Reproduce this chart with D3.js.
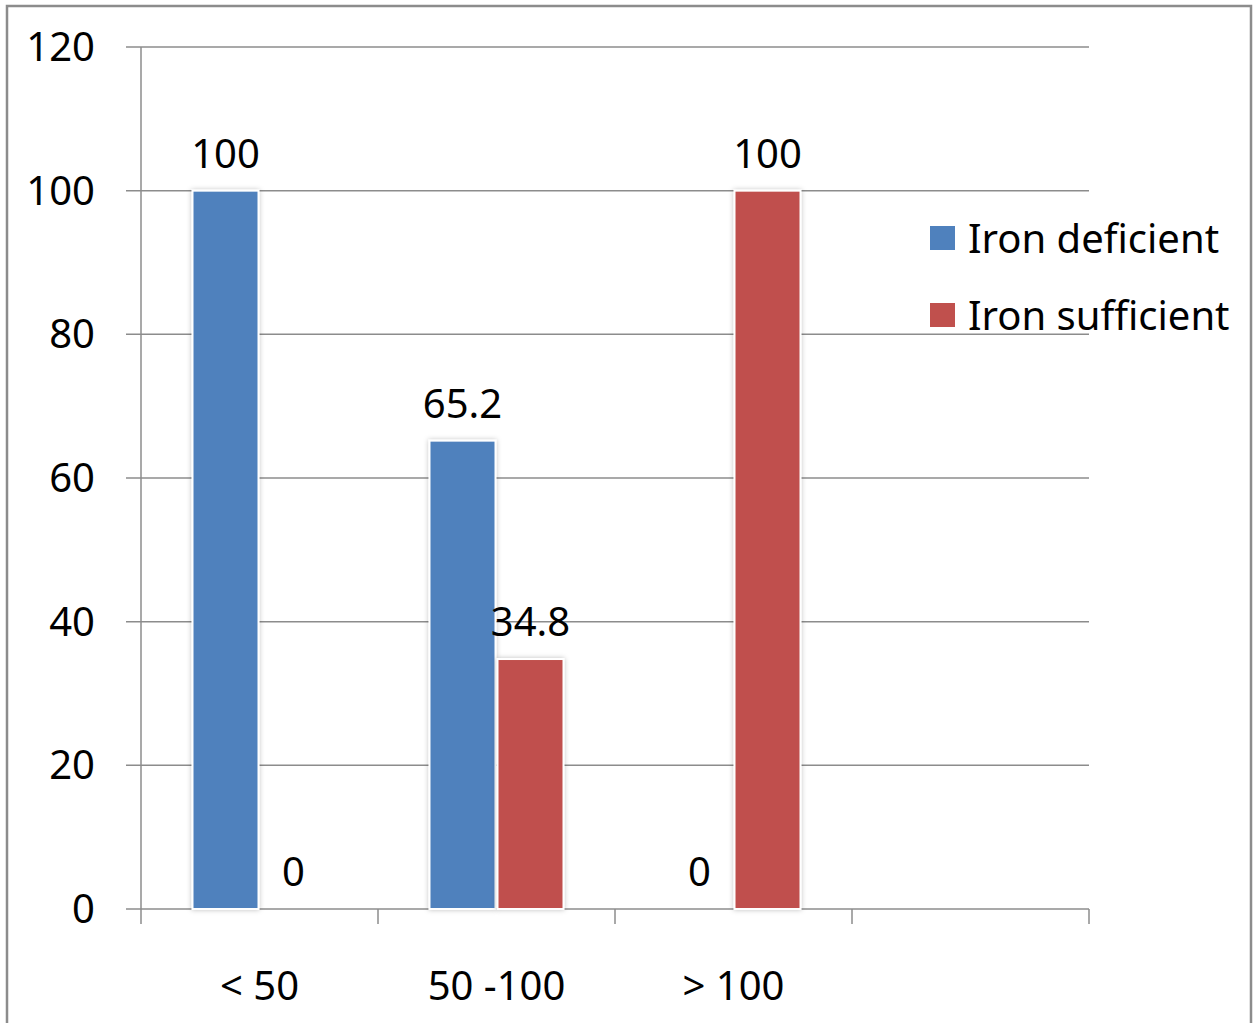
<!DOCTYPE html>
<html>
<head>
<meta charset="utf-8">
<script src="https://cdn.jsdelivr.net/npm/d3@7"></script>
<style>
    body { margin: 0; background: #fff; }
    svg text { font-family: "Noto Sans", "Open Sans", sans-serif; fill: #000; }
</style>
</head>
<body>
<div id="chart"></div>
<script>
    // chart data
    var categories = ['< 50', '50 -100', '> 100', ''];
    var seriesNames = ['Iron deficient', 'Iron sufficient'];
    var seriesColors = ['#4F81BD', '#C0504D'];
    var ironDeficient = [100, 65.2, 0];
    var ironSufficient = [0, 34.8, 100];
    var yTicks = [0, 20, 40, 60, 80, 100, 120];

    var width = 1259,
        height = 1023,
        margin = {left: 141, right: 170, top: 47, bottom: 114};

    var svg = d3.select('#chart').append('svg')
        .attr('width', width)
        .attr('height', height);

    var defs = svg.append('defs');
    var shadow = defs.append('filter')
        .attr('id', 'barShadow')
        .attr('x', '-20%').attr('y', '-5%')
        .attr('width', '140%').attr('height', '110%');
    shadow.append('feDropShadow')
        .attr('dx', 0).attr('dy', 0)
        .attr('stdDeviation', 2.5)
        .attr('flood-color', '#000')
        .attr('flood-opacity', 0.25);

    // outer frame (bottom edge falls outside the picture)
    svg.append('path')
        .attr('d', 'M7,' + (height + 5) + 'V6H1251V' + (height + 5))
        .attr('fill', 'none')
        .attr('stroke', '#8c8c8c')
        .attr('stroke-width', 2.5);

    var x = d3.scaleBand()
        .domain(d3.range(categories.length))
        .range([margin.left, width - margin.right])
        .paddingInner(0)
        .paddingOuter(0);

    var y = d3.scaleLinear()
        .domain([0, 120])
        .range([height - margin.bottom, margin.top]);

    var barW = 66,
        barGap = 2,
        groupW = barW * 2 + barGap;

    // gridlines
    var grid = svg.append('g');
    grid.selectAll('line')
        .data(yTicks)
        .enter().append('line')
        .attr('x1', margin.left - 15)
        .attr('x2', width - margin.right)
        .attr('y1', function (d) { return y(d); })
        .attr('y2', function (d) { return y(d); })
        .attr('stroke', '#8c8c8c')
        .attr('stroke-width', 1.5);

    // y axis
    svg.append('line')
        .attr('x1', margin.left).attr('x2', margin.left)
        .attr('y1', y(120)).attr('y2', y(0))
        .attr('stroke', '#8c8c8c')
        .attr('stroke-width', 1.5);

    svg.append('g').selectAll('text')
        .data(yTicks)
        .enter().append('text')
        .attr('x', 95)
        .attr('y', function (d) { return y(d) + 14; })
        .attr('text-anchor', 'end')
        .style('font-size', '40px')
        .text(function (d) { return d; });

    // x axis ticks
    var xTickPos = d3.range(categories.length + 1).map(function (i) {
        return margin.left + i * x.bandwidth();
    });
    svg.append('g').selectAll('line')
        .data(xTickPos)
        .enter().append('line')
        .attr('x1', function (d) { return d; })
        .attr('x2', function (d) { return d; })
        .attr('y1', y(0))
        .attr('y2', y(0) + 15)
        .attr('stroke', '#8c8c8c')
        .attr('stroke-width', 1.5);

    svg.append('g').selectAll('text')
        .data(categories)
        .enter().append('text')
        .attr('x', function (d, i) { return x(i) + x.bandwidth() / 2; })
        .attr('y', 1000)
        .attr('text-anchor', 'middle')
        .style('font-size', '40px')
        .text(function (d) { return d; });

    // bars
    var series = [ironDeficient, ironSufficient];
    series.forEach(function (values, s) {
        var g = svg.append('g');
        var barX = function (d, i) {
            return x(i) + (x.bandwidth() - groupW) / 2 + s * (barW + barGap);
        };
        g.selectAll('rect')
            .data(values)
            .enter().append('rect')
            .attr('x', barX)
            .attr('y', function (d) { return y(d); })
            .attr('width', barW)
            .attr('height', function (d) { return y(0) - y(d); })
            .attr('fill', seriesColors[s])
            .attr('stroke', '#fff')
            .attr('stroke-width', 2)
            .attr('filter', 'url(#barShadow)');

        g.selectAll('text')
            .data(values)
            .enter().append('text')
            .attr('x', function (d, i) { return barX(d, i) + barW / 2; })
            .attr('y', function (d) { return y(d) - 23; })
            .attr('text-anchor', 'middle')
            .style('font-size', '40px')
            .text(function (d) { return d; });
    });

    // legend
    var legend = svg.append('g')
        .attr('transform', 'translate(930,226)');
    seriesNames.forEach(function (name, i) {
        var row = legend.append('g')
            .attr('transform', 'translate(0,' + (i * 77) + ')');
        row.append('rect')
            .attr('width', 25)
            .attr('height', 24)
            .attr('fill', seriesColors[i]);
        row.append('text')
            .attr('x', 38)
            .attr('y', 27)
            .style('font-size', '40px')
            .text(name);
    });
</script>
</body>
</html>
